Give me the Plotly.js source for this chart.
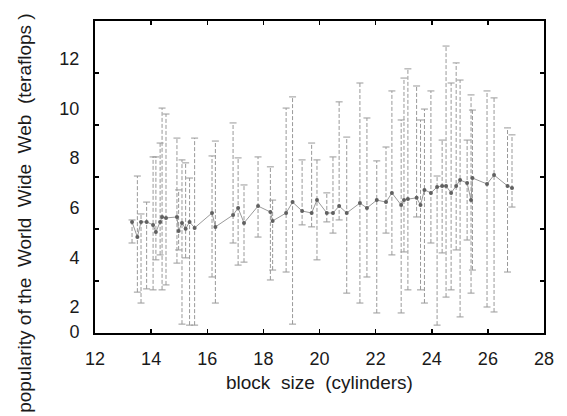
<!DOCTYPE html>
<html>
<head>
<meta charset="utf-8">
<script src="https://cdn.plot.ly/plotly-3.0.1.min.js"></script>
<style>
  html, body { margin: 0; padding: 0; background: #fff; }
  #chart { width: 567px; height: 416px; }
</style>
</head>
<body>
<div id="chart"></div>
<script>
// ---- data ----
var blockSize = [13.32, 13.51, 13.64, 13.84, 14.07, 14.17, 14.32, 14.39, 14.53, 14.92,
  14.98, 15.10, 15.23, 15.37, 15.55, 16.17, 16.29, 16.92, 17.10, 17.31,
  17.81, 18.25, 18.33, 18.81, 19.04, 19.38, 19.72, 19.91, 20.26, 20.48,
  20.70, 20.97, 21.44, 21.69, 22.04, 22.37, 22.58, 22.91, 23.01, 23.15,
  23.46, 23.60, 23.74, 23.97, 24.19, 24.37, 24.51, 24.69, 24.87, 25.01,
  25.26, 25.40, 25.45, 25.97, 26.22, 26.70, 26.86];
var popularity = [5.43, 4.82, 5.43, 5.43, 5.31, 5.02, 5.43, 5.63, 5.59, 5.63,
  5.06, 5.39, 5.15, 5.43, 5.19, 5.79, 5.23, 5.71, 5.99, 5.39,
  6.07, 5.83, 5.47, 5.79, 6.23, 5.87, 5.79, 6.31, 5.79, 5.79,
  6.07, 5.79, 6.19, 5.99, 6.31, 6.23, 6.60, 6.11, 6.31, 6.35,
  6.40, 6.11, 6.72, 6.60, 6.84, 6.88, 6.88, 6.60, 6.88, 7.12,
  7.00, 6.31, 7.20, 6.96, 7.32, 6.88, 6.80];
var upperBound = [5.51, 7.28, 5.75, 6.23, 8.05, 8.05, 8.61, 10.02, 9.78, 8.81,
  6.72, 7.93, 7.81, 7.20, 8.81, 8.09, 8.69, 9.42, 8.01, 6.92,
  8.05, 7.65, 6.31, 10.02, 10.47, 7.93, 8.61, 7.93, 6.60, 8.05,
  10.27, 8.85, 11.03, 9.62, 7.89, 8.45, 10.71, 9.54, 11.23, 11.60,
  10.91, 9.54, 9.98, 10.71, 7.28, 8.73, 12.52, 11.03, 11.84, 11.15,
  8.73, 10.55, 9.94, 10.71, 10.43, 9.22, 8.94];
var lowerBound = [4.58, 2.60, 2.16, 2.73, 2.69, 3.90, 4.10, 2.69, 2.89, 3.77,
  4.30, 1.31, 3.98, 1.27, 1.27, 3.21, 2.16, 4.58, 3.69, 3.81,
  4.82, 3.09, 3.49, 3.41, 1.31, 5.31, 5.23, 3.90, 5.43, 4.98,
  5.51, 2.56, 2.16, 3.21, 1.76, 4.98, 4.10, 1.76, 4.22, 2.69,
  5.63, 2.69, 2.16, 4.58, 1.27, 4.18, 2.40, 2.69, 4.30, 1.60,
  4.70, 2.56, 3.49, 2.00, 1.80, 3.41, 6.03];
var xTickVals = [12, 14, 16, 18, 20, 22, 24, 26, 28];
var yLabelVals = [0.99, 2, 4, 6, 8, 10, 12];
var yLabelText = ['0', '2', '4', '6', '8', '10', '12'];
var yTickMarkVals = [3.048, 5.145, 7.242, 9.339, 11.435];

// ---- build traces ----
var segX = [], segY = [];
for (var i = 0; i < blockSize.length; i++) {
  segX.push(blockSize[i], blockSize[i], null);
  segY.push(lowerBound[i], upperBound[i], null);
}
var capX = blockSize.concat(blockSize);
var capY = lowerBound.concat(upperBound);

var barColor = '#999999';
var traces = [
  {
    x: segX, y: segY, type: 'scatter', mode: 'lines',
    line: { color: barColor, width: 1, dash: '4px,2px' },
    hoverinfo: 'skip', showlegend: false
  },
  {
    x: capX, y: capY, type: 'scatter', mode: 'markers',
    marker: { symbol: 'line-ew', size: 5, color: barColor,
              line: { color: barColor, width: 1 } },
    hoverinfo: 'skip', showlegend: false
  },
  {
    x: blockSize, y: popularity, type: 'scatter', mode: 'lines+markers',
    line: { color: '#9a9a9a', width: 1 },
    marker: { symbol: 'circle', size: 4, color: '#606060' },
    showlegend: false
  }
];

var tickFont = { family: 'Liberation Sans, Arial, sans-serif', size: 18, color: '#1a1a1a' };
var titleFont = { family: 'Liberation Sans, Arial, sans-serif', size: 19, color: '#1a1a1a' };
var layout = {
  width: 567, height: 416,
  margin: { l: 95, r: 23, t: 21, b: 83 },
  paper_bgcolor: '#fff', plot_bgcolor: '#fff',
  showlegend: false,
  xaxis: {
    range: [12, 28], tickmode: 'array', tickvals: xTickVals,
    ticks: 'inside', ticklen: 4, tickwidth: 1.5, tickcolor: '#000',
    showline: true, linecolor: '#000', linewidth: 2, mirror: 'ticks',
    showgrid: false, zeroline: false, tickfont: tickFont,
    ticklabelstandoff: 8
  },
  yaxis: {
    range: [0.952, 13.53], tickmode: 'array', tickvals: yLabelVals, ticktext: yLabelText,
    ticks: 'inside', ticklen: 0, tickcolor: '#000',
    minor: { tickmode: 'array', tickvals: yTickMarkVals, ticks: 'inside',
             ticklen: 4, tickwidth: 1.5, tickcolor: '#000', showgrid: false },
    showline: true, linecolor: '#000', linewidth: 2, mirror: 'ticks',
    showgrid: false, zeroline: false, tickfont: tickFont,
    ticklabelstandoff: 10
  },
  annotations: [
    {
      text: 'block  size  (cylinders)', xref: 'paper', yref: 'paper',
      x: 0.5, y: -0.16, xanchor: 'center', yanchor: 'middle', showarrow: false,
      font: titleFont
    },
    {
      text: 'popularity of the  World  Wide  Web  (teraflops )', xref: 'paper', yref: 'paper',
      x: -0.156, y: 0.385, xanchor: 'center', yanchor: 'middle', textangle: -90,
      showarrow: false,
      font: titleFont
    }
  ]
};

Plotly.newPlot('chart', traces, layout, { displayModeBar: false, staticPlot: true });
</script>
</body>
</html>
